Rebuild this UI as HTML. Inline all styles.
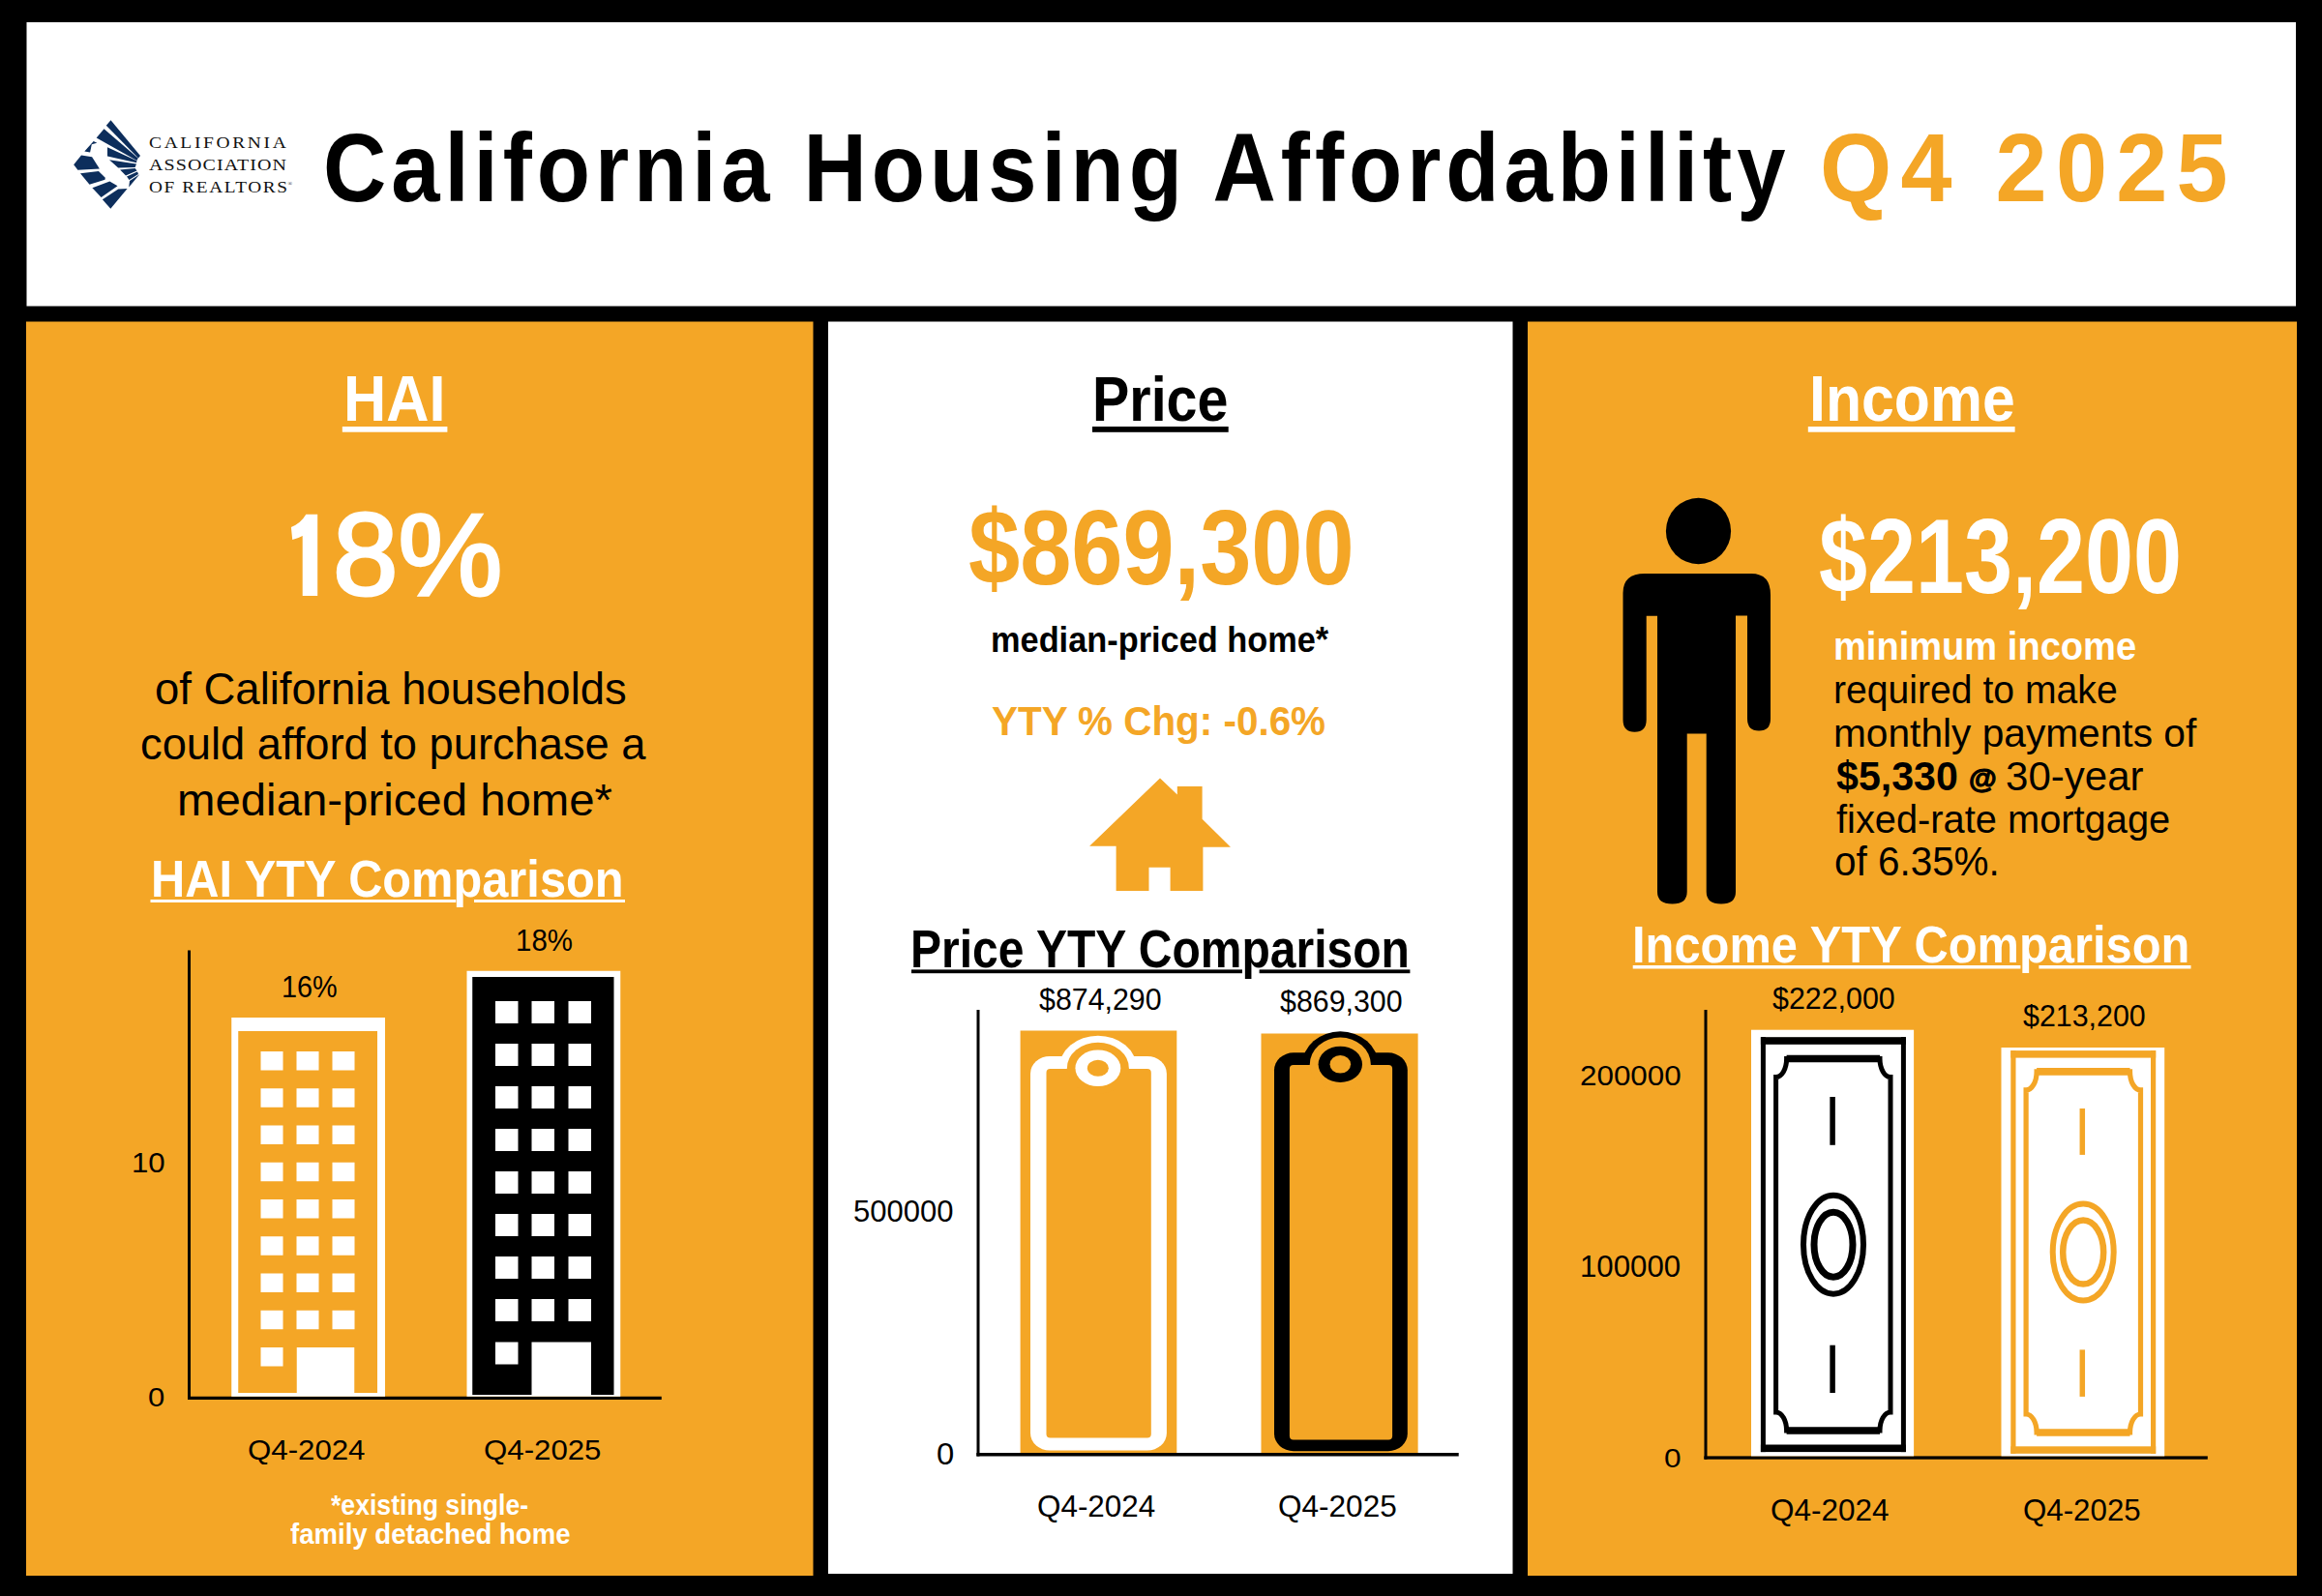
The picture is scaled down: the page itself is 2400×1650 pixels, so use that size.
<!DOCTYPE html>
<html><head><meta charset="utf-8"><title>California Housing Affordability Q4 2025</title>
<style>
html,body{margin:0;padding:0;width:2400px;height:1650px;overflow:hidden;background:#000}
.t{position:absolute;white-space:pre;transform-origin:0 0}
svg.g{position:absolute;left:0;top:0}
</style></head><body>
<svg class="g" width="2400" height="1650" viewBox="0 0 2400 1650">
<rect x="27.5" y="23" width="2345.50" height="293.50" fill="#fff"/>
<rect x="27" y="332.5" width="813.50" height="1296.50" fill="#F4A626"/>
<rect x="856" y="332.5" width="707.50" height="1294.50" fill="#fff"/>
<rect x="1579" y="332.5" width="795.00" height="1296.50" fill="#F4A626"/>
<polygon fill="#0D2E5C" points="109.8,129.7 114.5,124.2 145,161 143,163.6"/>
<polygon fill="#0D2E5C" points="99.7,142.4 107.5,133.3 142.7,163.6 141.4,165.9"/>
<polygon fill="#0D2E5C" points="87.3,156.5 96.7,146 100.3,147.7 94.8,149.3 93.1,157.4"/>
<polygon fill="#0D2E5C" points="111,152.2 141.4,166.2 141.1,168.2 111,161.4"/>
<polygon fill="#0D2E5C" points="113,165.3 141,169.5 139.6,173 122.2,173.4"/>
<polygon fill="#0D2E5C" points="124.1,175.4 139.6,174 141.5,176.5 130,181.5"/>
<polygon fill="#0D2E5C" points="131,182.5 142,177.5 143,180 133.5,186"/>
<polygon fill="#0D2E5C" points="134,187 144.3,180.3 133.2,193.6"/>
<polygon fill="#0D2E5C" points="76.2,170.2 84,160.4 95.1,162.3 102.9,174.4 80.4,175.7"/>
<polygon fill="#0D2E5C" points="83,179.3 101.9,177 108.8,183.8 108.5,185.8 92.5,190.7"/>
<polygon fill="#0D2E5C" points="95.4,194.3 113.4,187.4 121.5,192.3 104.6,204"/>
<polygon fill="#0D2E5C" points="105.9,206.3 122.2,195.6 131.6,194.9 114.3,215.8"/>
<text x="297.5" y="192" font-family="Liberation Serif" font-size="6" fill="#111">&#174;</text>
<rect x="194" y="982.5" width="3.00" height="464.50" fill="#000"/>
<rect x="194" y="1443.75" width="489.75" height="3.25" fill="#000"/>
<rect x="239.25" y="1052" width="158.75" height="391.75" fill="#fff"/>
<rect x="246.25" y="1066" width="143.75" height="374.00" fill="#F4A626"/>
<rect x="269.5" y="1087" width="23.00" height="19.50" fill="#fff"/>
<rect x="306.5" y="1087" width="23.00" height="19.50" fill="#fff"/>
<rect x="343.5" y="1087" width="23.00" height="19.50" fill="#fff"/>
<rect x="269.5" y="1125.25" width="23.00" height="19.50" fill="#fff"/>
<rect x="306.5" y="1125.25" width="23.00" height="19.50" fill="#fff"/>
<rect x="343.5" y="1125.25" width="23.00" height="19.50" fill="#fff"/>
<rect x="269.5" y="1163.5" width="23.00" height="19.50" fill="#fff"/>
<rect x="306.5" y="1163.5" width="23.00" height="19.50" fill="#fff"/>
<rect x="343.5" y="1163.5" width="23.00" height="19.50" fill="#fff"/>
<rect x="269.5" y="1201.75" width="23.00" height="19.50" fill="#fff"/>
<rect x="306.5" y="1201.75" width="23.00" height="19.50" fill="#fff"/>
<rect x="343.5" y="1201.75" width="23.00" height="19.50" fill="#fff"/>
<rect x="269.5" y="1240" width="23.00" height="19.50" fill="#fff"/>
<rect x="306.5" y="1240" width="23.00" height="19.50" fill="#fff"/>
<rect x="343.5" y="1240" width="23.00" height="19.50" fill="#fff"/>
<rect x="269.5" y="1278.25" width="23.00" height="19.50" fill="#fff"/>
<rect x="306.5" y="1278.25" width="23.00" height="19.50" fill="#fff"/>
<rect x="343.5" y="1278.25" width="23.00" height="19.50" fill="#fff"/>
<rect x="269.5" y="1316.5" width="23.00" height="19.50" fill="#fff"/>
<rect x="306.5" y="1316.5" width="23.00" height="19.50" fill="#fff"/>
<rect x="343.5" y="1316.5" width="23.00" height="19.50" fill="#fff"/>
<rect x="269.5" y="1354.75" width="23.00" height="19.50" fill="#fff"/>
<rect x="306.5" y="1354.75" width="23.00" height="19.50" fill="#fff"/>
<rect x="343.5" y="1354.75" width="23.00" height="19.50" fill="#fff"/>
<rect x="269.5" y="1393" width="23.00" height="19.50" fill="#fff"/>
<rect x="306.75" y="1393" width="59.50" height="48.00" fill="#fff"/>
<rect x="482.5" y="1003.75" width="158.75" height="440.00" fill="#fff"/>
<rect x="488.25" y="1010" width="146.25" height="432.00" fill="#000"/>
<rect x="512" y="1035" width="23.50" height="23.00" fill="#fff"/>
<rect x="549.5" y="1035" width="23.50" height="23.00" fill="#fff"/>
<rect x="587.5" y="1035" width="23.50" height="23.00" fill="#fff"/>
<rect x="512" y="1079" width="23.50" height="23.00" fill="#fff"/>
<rect x="549.5" y="1079" width="23.50" height="23.00" fill="#fff"/>
<rect x="587.5" y="1079" width="23.50" height="23.00" fill="#fff"/>
<rect x="512" y="1123" width="23.50" height="23.00" fill="#fff"/>
<rect x="549.5" y="1123" width="23.50" height="23.00" fill="#fff"/>
<rect x="587.5" y="1123" width="23.50" height="23.00" fill="#fff"/>
<rect x="512" y="1167" width="23.50" height="23.00" fill="#fff"/>
<rect x="549.5" y="1167" width="23.50" height="23.00" fill="#fff"/>
<rect x="587.5" y="1167" width="23.50" height="23.00" fill="#fff"/>
<rect x="512" y="1211" width="23.50" height="23.00" fill="#fff"/>
<rect x="549.5" y="1211" width="23.50" height="23.00" fill="#fff"/>
<rect x="587.5" y="1211" width="23.50" height="23.00" fill="#fff"/>
<rect x="512" y="1255" width="23.50" height="23.00" fill="#fff"/>
<rect x="549.5" y="1255" width="23.50" height="23.00" fill="#fff"/>
<rect x="587.5" y="1255" width="23.50" height="23.00" fill="#fff"/>
<rect x="512" y="1299" width="23.50" height="23.00" fill="#fff"/>
<rect x="549.5" y="1299" width="23.50" height="23.00" fill="#fff"/>
<rect x="587.5" y="1299" width="23.50" height="23.00" fill="#fff"/>
<rect x="512" y="1343" width="23.50" height="23.00" fill="#fff"/>
<rect x="549.5" y="1343" width="23.50" height="23.00" fill="#fff"/>
<rect x="587.5" y="1343" width="23.50" height="23.00" fill="#fff"/>
<rect x="512" y="1387.5" width="23.50" height="23.00" fill="#fff"/>
<rect x="549.5" y="1387.5" width="61.50" height="55.00" fill="#fff"/>
<polygon fill="#F4A626" points="1199,804.6 1216.8,821.4 1216.8,813.1 1242.6,813.1 1242.6,846.7 1271.9,875.7 1243.4,875.7 1243.4,920.9 1209.6,920.9 1209.6,896.8 1187.5,896.8 1187.5,920.9 1153.6,920.9 1153.6,874.7 1126.1,874.7"/>
<rect x="1009.5" y="1044" width="3.00" height="461.50" fill="#000"/>
<rect x="1009.3" y="1502" width="498.40" height="3.50" fill="#000"/>
<rect x="1054.6" y="1065.5" width="161.70" height="436.50" fill="#F4A626"/>
<rect x="1303.5" y="1068.5" width="162.10" height="433.50" fill="#F4A626"/>
<rect x="1065" y="1092" width="140.90" height="407.60" rx="20" ry="18" fill="#fff"/>
<ellipse cx="1134.85" cy="1104.25" rx="40.1" ry="33.5" fill="#fff"/>
<rect x="1081.5" y="1105.1" width="108.30" height="381.30" rx="4" fill="#F4A626"/>
<ellipse cx="1134.85" cy="1104.25" rx="32" ry="26.5" fill="#F4A626"/>
<ellipse cx="1134.85" cy="1104.25" rx="23.4" ry="18.85" fill="#fff"/>
<ellipse cx="1134.85" cy="1104.25" rx="11" ry="8.6" fill="#F4A626"/>
<rect x="1317" y="1088.3" width="137.80" height="411.90" rx="20" ry="18" fill="#000"/>
<ellipse cx="1385.3" cy="1100.3" rx="39.1" ry="34" fill="#000"/>
<rect x="1332.9" y="1101.1" width="106.20" height="387.40" rx="4" fill="#F4A626"/>
<ellipse cx="1385.3" cy="1100.3" rx="31.5" ry="27.7" fill="#F4A626"/>
<ellipse cx="1385.3" cy="1100.3" rx="22.7" ry="18.65" fill="#000"/>
<ellipse cx="1385.3" cy="1100.3" rx="10.8" ry="9.3" fill="#F4A626"/>
<ellipse cx="1755.5" cy="549" rx="33.6" ry="34.2" fill="#000"/>
<path d="M1677.5,613 Q1677.5,593 1700,593 L1810,593 Q1830,593 1830,615 L1830,743 Q1830,755.5 1818,755.5 Q1806,755.5 1806,743 L1806,636.5 L1794,636.5 L1794,922 Q1794,934.5 1779,934.5 Q1763.7,934.5 1763.7,922 L1763.7,758.5 L1743.7,758.5 L1743.7,922 Q1743.7,934.5 1728.5,934.5 Q1713,934.5 1713,922 L1713,636.7 L1701.7,636.7 L1701.7,744 Q1701.7,756.8 1689.5,756.8 Q1677.5,756.8 1677.5,744 Z" fill="#000"/>
<rect x="1761.5" y="1044" width="3.00" height="464.70" fill="#000"/>
<rect x="1761.4" y="1505.4" width="520.40" height="3.30" fill="#000"/>
<rect x="1810" y="1064.7" width="168.10" height="440.70" fill="#fff"/>
<rect x="1819.9" y="1072.2" width="150.00" height="7.60" fill="#000"/>
<rect x="1819.9" y="1493.5" width="150.00" height="7.60" fill="#000"/>
<rect x="1819.9" y="1072.2" width="5.00" height="428.90" fill="#000"/>
<rect x="1964.9" y="1072.2" width="5.00" height="428.90" fill="#000"/>
<path d="M1846.6,1094.45 L1943.0,1094.45 A11,19 0 0 0 1954.0,1113.45 L1954.0,1460.05 A11,19 0 0 0 1943.0,1479.05 L1846.6,1479.05 A11,19 0 0 0 1835.6,1460.05 L1835.6,1113.45 A11,19 0 0 0 1846.6,1094.45 Z" fill="none" stroke="#000" stroke-width="5"/>
<path d="M1846.6,1094.45 L1943.0,1094.45 M1846.6,1479.05 L1943.0,1479.05" stroke="#000" stroke-width="7.5"/>
<rect x="1891.35" y="1134" width="5.50" height="49.80" fill="#000"/>
<rect x="1891.35" y="1390.7" width="5.50" height="49.30" fill="#000"/>
<ellipse cx="1895" cy="1286.7" rx="31" ry="51" fill="none" stroke="#000" stroke-width="6"/>
<ellipse cx="1895" cy="1286.7" rx="20" ry="33.5" fill="none" stroke="#000" stroke-width="7"/>
<rect x="2068.5" y="1083" width="168.70" height="422.40" fill="#fff"/>
<rect x="2078.3" y="1086.1" width="149.90" height="7.50" fill="#F4A626"/>
<rect x="2078.3" y="1495.3" width="149.90" height="7.50" fill="#F4A626"/>
<rect x="2078.3" y="1086.1" width="5.20" height="416.70" fill="#F4A626"/>
<rect x="2223.0" y="1086.1" width="5.20" height="416.70" fill="#F4A626"/>
<path d="M2105.1,1107.8999999999999 L2201.5,1107.8999999999999 A11,19 0 0 0 2212.5,1126.8999999999999 L2212.5,1462.0 A11,19 0 0 0 2201.5,1481.0 L2105.1,1481.0 A11,19 0 0 0 2094.1,1462.0 L2094.1,1126.8999999999999 A11,19 0 0 0 2105.1,1107.8999999999999 Z" fill="none" stroke="#F4A626" stroke-width="5.2"/>
<path d="M2105.1,1107.8999999999999 L2201.5,1107.8999999999999 M2105.1,1481.0 L2201.5,1481.0" stroke="#F4A626" stroke-width="7.6"/>
<rect x="2149.55" y="1146" width="5.50" height="47.90" fill="#F4A626"/>
<rect x="2149.55" y="1395.4" width="5.50" height="48.50" fill="#F4A626"/>
<ellipse cx="2153.2" cy="1294.6" rx="31.5" ry="50" fill="none" stroke="#F4A626" stroke-width="6"/>
<ellipse cx="2153.2" cy="1294.6" rx="21" ry="33" fill="none" stroke="#F4A626" stroke-width="6.5"/>
<rect x="353.8" y="441" width="108.60" height="5.70" fill="#fff"/>
<rect x="155.5" y="930" width="315.75" height="3.00" fill="#fff"/>
<rect x="490" y="930" width="156.00" height="3.00" fill="#fff"/>
<rect x="1129" y="441" width="140.70" height="5.80" fill="#000"/>
<rect x="942" y="1002.4" width="342.00" height="3.80" fill="#000"/>
<rect x="1301.6" y="1002.4" width="155.80" height="3.80" fill="#000"/>
<rect x="1868.8" y="441" width="213.80" height="5.70" fill="#fff"/>
<rect x="1687.7" y="998" width="400.70" height="3.50" fill="#fff"/>
<rect x="2107.4" y="998" width="157.10" height="3.50" fill="#fff"/>
<path fill="#fff" d="M316.3,531.8 L328.2,531.8 L328.2,616 L312.7,616 L312.7,553.9 Q308,556.5 302.2,558 L300.9,545 Q311,541 316.3,531.8 Z"/>
</svg>
<div class="t" style="left:333.58px;top:122.95px;font-size:100.41px;line-height:100.41px;font-weight:bold;color:#000;font-family:'Liberation Sans', sans-serif;transform:scaleX(0.9000);letter-spacing:5.530px">California Housing Affordability</div>
<div class="t" style="left:1880.72px;top:122.95px;font-size:100.41px;line-height:100.41px;font-weight:bold;color:#F4A626;font-family:'Liberation Sans', sans-serif;transform:scaleX(0.9500);letter-spacing:9.773px">Q4 2025</div>
<div class="t" style="left:154.09px;top:139.88px;font-size:16.91px;line-height:16.91px;font-weight:normal;color:#111;font-family:'Liberation Serif', serif;transform:scaleX(1.1500);letter-spacing:2.317px">CALIFORNIA</div>
<div class="t" style="left:154.10px;top:162.19px;font-size:17.37px;line-height:17.37px;font-weight:normal;color:#111;font-family:'Liberation Serif', serif;transform:scaleX(1.1500);letter-spacing:0.966px">ASSOCIATION</div>
<div class="t" style="left:154.10px;top:185.80px;font-size:16.76px;line-height:16.76px;font-weight:normal;color:#111;font-family:'Liberation Serif', serif;transform:scaleX(1.1500);letter-spacing:1.404px">OF REALTORS</div>
<div class="t" style="left:354.87px;top:378.94px;font-size:66.70px;line-height:66.70px;font-weight:bold;color:#fff;font-family:'Liberation Sans', sans-serif;transform:scaleX(0.9179);letter-spacing:0.000px">HAI</div>
<div class="t" style="left:344.11px;top:513.45px;font-size:120.18px;line-height:120.18px;font-weight:normal;color:#fff;font-family:'Liberation Sans', sans-serif;transform:scaleX(1.0093);letter-spacing:0.000px;-webkit-text-stroke:3px #fff">8%</div>
<div class="t" style="left:159.58px;top:688.30px;font-size:46.98px;line-height:46.98px;font-weight:normal;color:#000;font-family:'Liberation Sans', sans-serif;transform:scaleX(0.9679);letter-spacing:0.000px">of California households</div>
<div class="t" style="left:144.59px;top:745.30px;font-size:46.98px;line-height:46.98px;font-weight:normal;color:#000;font-family:'Liberation Sans', sans-serif;transform:scaleX(0.9636);letter-spacing:0.000px">could afford to purchase a</div>
<div class="t" style="left:183.04px;top:802.80px;font-size:46.98px;line-height:46.98px;font-weight:normal;color:#000;font-family:'Liberation Sans', sans-serif;transform:scaleX(1.0081);letter-spacing:0.000px">median-priced home*</div>
<div class="t" style="left:155.70px;top:882.43px;font-size:53.33px;line-height:53.33px;font-weight:bold;color:#fff;font-family:'Liberation Sans', sans-serif;transform:scaleX(0.9143);letter-spacing:0.000px">HAI YTY Comparison</div>
<div class="t" style="left:290.70px;top:1004.21px;font-size:32.00px;line-height:32.00px;font-weight:normal;color:#000;font-family:'Liberation Sans', sans-serif;transform:scaleX(0.9003);letter-spacing:0.000px">16%</div>
<div class="t" style="left:533.16px;top:956.81px;font-size:31.29px;line-height:31.29px;font-weight:normal;color:#000;font-family:'Liberation Sans', sans-serif;transform:scaleX(0.9416);letter-spacing:0.000px">18%</div>
<div class="t" style="left:135.55px;top:1186.76px;font-size:29.87px;line-height:29.87px;font-weight:normal;color:#000;font-family:'Liberation Sans', sans-serif;transform:scaleX(1.0454);letter-spacing:0.000px">10</div>
<div class="t" style="left:152.78px;top:1432.17px;font-size:27.02px;line-height:27.02px;font-weight:normal;color:#000;font-family:'Liberation Sans', sans-serif;transform:scaleX(1.1472);letter-spacing:0.000px">0</div>
<div class="t" style="left:255.54px;top:1484.46px;font-size:30.22px;line-height:30.22px;font-weight:normal;color:#000;font-family:'Liberation Sans', sans-serif;transform:scaleX(1.0330);letter-spacing:0.000px">Q4-2024</div>
<div class="t" style="left:499.79px;top:1484.46px;font-size:30.22px;line-height:30.22px;font-weight:normal;color:#000;font-family:'Liberation Sans', sans-serif;transform:scaleX(1.0329);letter-spacing:0.000px">Q4-2025</div>
<div class="t" style="left:341.80px;top:1542.20px;font-size:28.99px;line-height:28.99px;font-weight:bold;color:#fff;font-family:'Liberation Sans', sans-serif;transform:scaleX(0.9184);letter-spacing:0.000px">*existing single-</div>
<div class="t" style="left:299.57px;top:1572.36px;font-size:28.80px;line-height:28.80px;font-weight:bold;color:#fff;font-family:'Liberation Sans', sans-serif;transform:scaleX(0.9571);letter-spacing:0.000px">family detached home</div>
<div class="t" style="left:1128.81px;top:379.72px;font-size:65.42px;line-height:65.42px;font-weight:bold;color:#000;font-family:'Liberation Sans', sans-serif;transform:scaleX(0.8780);letter-spacing:0.000px">Price</div>
<div class="t" style="left:1000.80px;top:513.00px;font-size:108.52px;line-height:108.52px;font-weight:bold;color:#F4A626;font-family:'Liberation Sans', sans-serif;transform:scaleX(0.8806);letter-spacing:0.000px">$869,300</div>
<div class="t" style="left:1023.65px;top:644.01px;font-size:36.09px;line-height:36.09px;font-weight:bold;color:#000;font-family:'Liberation Sans', sans-serif;transform:scaleX(0.9519);letter-spacing:0.000px">median-priced home*</div>
<div class="t" style="left:1025.17px;top:723.59px;font-size:43.09px;line-height:43.09px;font-weight:bold;color:#F4A626;font-family:'Liberation Sans', sans-serif;transform:scaleX(0.9381);letter-spacing:0.000px">YTY % Chg: -0.6%</div>
<div class="t" style="left:940.50px;top:954.15px;font-size:55.32px;line-height:55.32px;font-weight:bold;color:#000;font-family:'Liberation Sans', sans-serif;transform:scaleX(0.8680);letter-spacing:0.000px">Price YTY Comparison</div>
<div class="t" style="left:1073.80px;top:1017.56px;font-size:31.29px;line-height:31.29px;font-weight:normal;color:#000;font-family:'Liberation Sans', sans-serif;transform:scaleX(0.9705);letter-spacing:0.000px">$874,290</div>
<div class="t" style="left:1322.70px;top:1020.46px;font-size:31.29px;line-height:31.29px;font-weight:normal;color:#000;font-family:'Liberation Sans', sans-serif;transform:scaleX(0.9705);letter-spacing:0.000px">$869,300</div>
<div class="t" style="left:881.83px;top:1237.64px;font-size:30.72px;line-height:30.72px;font-weight:normal;color:#000;font-family:'Liberation Sans', sans-serif;transform:scaleX(1.0091);letter-spacing:0.000px">500000</div>
<div class="t" style="left:967.88px;top:1487.98px;font-size:30.44px;line-height:30.44px;font-weight:normal;color:#000;font-family:'Liberation Sans', sans-serif;transform:scaleX(1.0777);letter-spacing:0.000px">0</div>
<div class="t" style="left:1072.33px;top:1542.08px;font-size:31.15px;line-height:31.15px;font-weight:normal;color:#000;font-family:'Liberation Sans', sans-serif;transform:scaleX(1.0086);letter-spacing:0.000px">Q4-2024</div>
<div class="t" style="left:1321.22px;top:1542.08px;font-size:31.15px;line-height:31.15px;font-weight:normal;color:#000;font-family:'Liberation Sans', sans-serif;transform:scaleX(1.0128);letter-spacing:0.000px">Q4-2025</div>
<div class="t" style="left:1869.90px;top:378.94px;font-size:66.70px;line-height:66.70px;font-weight:bold;color:#fff;font-family:'Liberation Sans', sans-serif;transform:scaleX(0.9113);letter-spacing:0.000px">Income</div>
<div class="t" style="left:1879.60px;top:520.70px;font-size:109.23px;line-height:109.23px;font-weight:bold;color:#fff;font-family:'Liberation Sans', sans-serif;transform:scaleX(0.8235);letter-spacing:0.000px">$213,200</div>
<div class="t" style="left:1895.22px;top:647.50px;font-size:40.47px;line-height:40.47px;font-weight:bold;color:#fff;font-family:'Liberation Sans', sans-serif;transform:scaleX(0.9408);letter-spacing:0.000px">minimum income</div>
<div class="t" style="left:1895.15px;top:692.80px;font-size:40.47px;line-height:40.47px;font-weight:normal;color:#000;font-family:'Liberation Sans', sans-serif;transform:scaleX(0.9672);letter-spacing:0.000px">required to make</div>
<div class="t" style="left:1895.06px;top:737.60px;font-size:40.47px;line-height:40.47px;font-weight:normal;color:#000;font-family:'Liberation Sans', sans-serif;transform:scaleX(1.0048);letter-spacing:0.000px">monthly payments of</div>
<div class="t" style="left:1897.60px;top:781.87px;font-size:41.81px;line-height:41.81px;font-weight:bold;color:#000;font-family:'Liberation Sans', sans-serif;transform:scaleX(0.9842);letter-spacing:0.000px">$5,330</div>
<div class="t" style="left:2034.82px;top:790.39px;font-size:29.42px;line-height:29.42px;font-weight:bold;color:#000;font-family:'Liberation Sans', sans-serif;transform:scaleX(0.9984);letter-spacing:0.000px;-webkit-text-stroke:1.2px #000">@</div>
<div class="t" style="left:2073.39px;top:781.87px;font-size:41.81px;line-height:41.81px;font-weight:normal;color:#000;font-family:'Liberation Sans', sans-serif;transform:scaleX(1.0060);letter-spacing:0.000px">30-year</div>
<div class="t" style="left:1897.60px;top:827.30px;font-size:40.47px;line-height:40.47px;font-weight:normal;color:#000;font-family:'Liberation Sans', sans-serif;transform:scaleX(0.9837);letter-spacing:0.000px">fixed-rate mortgage</div>
<div class="t" style="left:1896.34px;top:870.49px;font-size:42.38px;line-height:42.38px;font-weight:normal;color:#000;font-family:'Liberation Sans', sans-serif;transform:scaleX(0.9539);letter-spacing:0.000px">of 6.35%.</div>
<div class="t" style="left:1686.95px;top:950.27px;font-size:54.47px;line-height:54.47px;font-weight:bold;color:#fff;font-family:'Liberation Sans', sans-serif;transform:scaleX(0.8969);letter-spacing:0.000px">Income YTY Comparison</div>
<div class="t" style="left:1832.40px;top:1017.30px;font-size:31.72px;line-height:31.72px;font-weight:normal;color:#000;font-family:'Liberation Sans', sans-serif;transform:scaleX(0.9582);letter-spacing:0.000px">$222,000</div>
<div class="t" style="left:2091.00px;top:1035.00px;font-size:31.72px;line-height:31.72px;font-weight:normal;color:#000;font-family:'Liberation Sans', sans-serif;transform:scaleX(0.9582);letter-spacing:0.000px">$213,200</div>
<div class="t" style="left:1632.93px;top:1096.82px;font-size:29.44px;line-height:29.44px;font-weight:normal;color:#000;font-family:'Liberation Sans', sans-serif;transform:scaleX(1.0653);letter-spacing:0.000px">200000</div>
<div class="t" style="left:1633.45px;top:1293.56px;font-size:31.29px;line-height:31.29px;font-weight:normal;color:#000;font-family:'Liberation Sans', sans-serif;transform:scaleX(0.9973);letter-spacing:0.000px">100000</div>
<div class="t" style="left:1720.01px;top:1493.95px;font-size:27.88px;line-height:27.88px;font-weight:normal;color:#000;font-family:'Liberation Sans', sans-serif;transform:scaleX(1.1336);letter-spacing:0.000px">0</div>
<div class="t" style="left:1830.33px;top:1545.70px;font-size:31.72px;line-height:31.72px;font-weight:normal;color:#000;font-family:'Liberation Sans', sans-serif;transform:scaleX(0.9914);letter-spacing:0.000px">Q4-2024</div>
<div class="t" style="left:2091.13px;top:1545.70px;font-size:31.72px;line-height:31.72px;font-weight:normal;color:#000;font-family:'Liberation Sans', sans-serif;transform:scaleX(0.9855);letter-spacing:0.000px">Q4-2025</div>
</body></html>
